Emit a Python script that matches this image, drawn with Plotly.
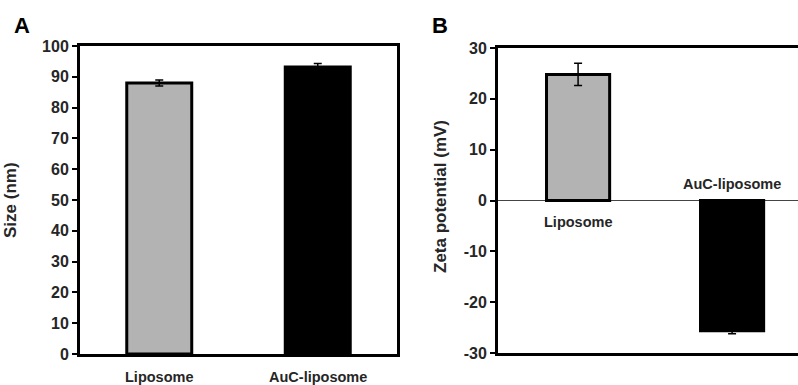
import plotly.graph_objects as go

categories = ["Liposome", "AuC-liposome"]
size_values = [88.0, 93.2]
size_errors = [1.0, 1.1]
zeta_values = [24.8, -25.6]
zeta_errors = [2.2, 0.6]
bar_colors = ["#b3b3b3", "#000000"]
size_ticks = [0, 10, 20, 30, 40, 50, 60, 70, 80, 90, 100]
zeta_ticks = [-30, -20, -10, 0, 10, 20, 30]
zeta_ticktext = ["-30", "-20", "-10", "0", "10", "20", "30"]

W, H = 798, 385
FONT = "Liberation Sans, Arial, sans-serif"
TXT = "#262626"

fig = go.Figure()
xi = list(range(len(categories)))

fig.add_trace(go.Bar(
    x=xi, y=size_values, width=0.41,
    marker=dict(color=bar_colors, line=dict(color="black", width=3)),
    error_y=dict(type="data", array=size_errors, color="black", thickness=1.5, width=4),
    xaxis="x", yaxis="y", showlegend=False))

fig.add_trace(go.Bar(
    x=xi, y=zeta_values, width=0.41,
    marker=dict(color=bar_colors, line=dict(color="black", width=3)),
    error_y=dict(type="data", array=zeta_errors, color="black", thickness=1.5, width=4),
    xaxis="x2", yaxis="y2", showlegend=False))

tickfont = dict(family=FONT, size=16, color=TXT, weight="bold")

fig.update_layout(
    width=W, height=H,
    margin=dict(l=0, r=0, t=0, b=0, autoexpand=False),
    showlegend=False,
    paper_bgcolor="white", plot_bgcolor="white",
    xaxis=dict(domain=[80 / W, 397 / W], range=[-0.5, 1.5], showticklabels=False,
               ticks="", showgrid=False, zeroline=False, showline=True, linecolor="black",
               linewidth=3, mirror=True, anchor="y", automargin=False),
    yaxis=dict(domain=[1 - 354 / H, 1 - 46 / H], range=[0, 100], tickvals=size_ticks,
               ticks="outside", ticklen=5, tickwidth=1.5, tickcolor="black",
               showgrid=False, zeroline=False, showline=True, linecolor="black",
               linewidth=3, mirror=True, tickfont=tickfont, anchor="x", automargin=False),
    xaxis2=dict(domain=[498 / W, 1.0], range=[-0.52, -0.52 + 300 / 154], showticklabels=False,
                ticks="", showgrid=False, zeroline=False, showline=True, linecolor="black",
                linewidth=3, mirror=True, anchor="y2", automargin=False),
    yaxis2=dict(domain=[1 - 353 / H, 1 - 48 / H], range=[-30, 30], tickvals=zeta_ticks,
                ticktext=zeta_ticktext, ticks="outside", ticklen=5, tickwidth=1.5,
                tickcolor="black", showgrid=False, zeroline=True, zerolinecolor="#444444",
                zerolinewidth=1, showline=True, linecolor="black", linewidth=3,
                mirror=False, tickfont=tickfont, anchor="x2", automargin=False),
)

catfont = dict(family=FONT, size=14.5, color=TXT, weight="bold")
ann = []
for i, c in enumerate(categories):
    ann.append(dict(x=i, y=1 - 377 / H, xref="x", yref="paper", text=c, showarrow=False,
                    font=catfont, xanchor="center", yanchor="middle"))
ann.append(dict(x=0, y=-4.3, xref="x2", yref="y2", text=categories[0], showarrow=False,
                font=catfont, xanchor="center", yanchor="middle"))
ann.append(dict(x=1, y=3.3, xref="x2", yref="y2", text=categories[1], showarrow=False,
                font=catfont, xanchor="center", yanchor="middle"))
titlefont = dict(family=FONT, size=17, color=TXT, weight="bold")
ann.append(dict(x=11 / W, y=1 - 200 / H, xref="paper", yref="paper", text="Size (nm)",
                textangle=-90, showarrow=False, font=titlefont, xanchor="center", yanchor="middle"))
ann.append(dict(x=441 / W, y=1 - 197 / H, xref="paper", yref="paper", text="Zeta potential (mV)",
                textangle=-90, showarrow=False, font=titlefont, xanchor="center", yanchor="middle"))
letterfont = dict(family=FONT, size=22, color="black", weight="bold")
ann.append(dict(x=22 / W, y=1 - 25 / H, xref="paper", yref="paper", text="A", showarrow=False,
                font=letterfont, xanchor="center", yanchor="middle"))
ann.append(dict(x=440 / W, y=1 - 25 / H, xref="paper", yref="paper", text="B", showarrow=False,
                font=letterfont, xanchor="center", yanchor="middle"))
fig.update_layout(annotations=ann)

fig.write_html("out.html")
